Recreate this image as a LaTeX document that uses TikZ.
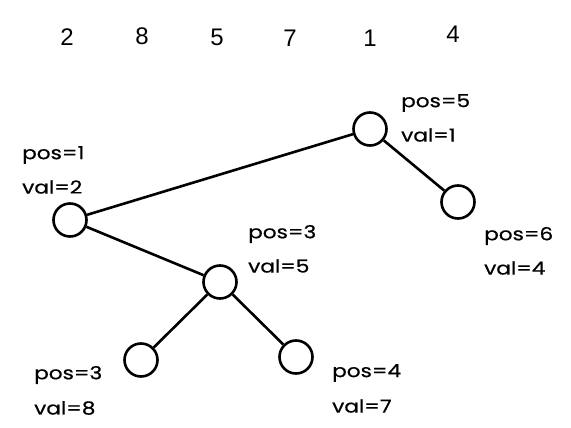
\documentclass[tikz,border=0pt]{standalone}
\usepackage{fontspec}
\setmainfont{Poppins}[FakeStretch=1.2,FakeBold=0.6]
\newfontfamily\digitfont{Liberation Sans}
\tikzset{
  tnode/.style={circle,draw,line width=2.6pt,minimum size=33pt,inner sep=0pt},
  edge/.style={line width=2.6pt},
  lbl/.style={anchor=west,inner sep=0pt,font=\fontsize{18}{20}\selectfont},
  topnum/.style={inner sep=0pt,font=\digitfont\fontsize{24}{26}\selectfont}
}
\begin{document}
\begin{tikzpicture}[x=1pt,y=-1pt]
\useasboundingbox (0,0) rectangle (571,428);
% top sequence
\node[topnum] (t1) at (67,37) {2};
\node[topnum] (t2) at (142,36) {8};
\node[topnum] (t3) at (217,37) {5};
\node[topnum] (t4) at (290,38) {7};
\node[topnum] (t5) at (370,38) {1};
\node[topnum] (t6) at (453,34) {4};
% tree nodes
\node[tnode] (n1) at (370,129) {};
\node[tnode] (n2) at (70,220) {};
\node[tnode] (n6) at (458,202) {};
\node[tnode] (n3) at (220,282) {};
\node[tnode] (n8) at (141,360) {};
\node[tnode] (n7) at (296,357) {};
\draw[edge] (n1) -- (n2);
\draw[edge] (n1) -- (n6);
\draw[edge] (n2) -- (n3);
\draw[edge] (n3) -- (n8);
\draw[edge] (n3) -- (n7);
% labels
\node[lbl] (p1) at (401,103) {pos=5};
\node[lbl] (v1) at (401,135) {val=1};
\node[lbl] (p2) at (22,155) {pos=1};
\node[lbl] (v2) at (22,187) {val=2};
\node[lbl] (p3) at (248,234) {pos=3};
\node[lbl] (v3) at (248,266) {val=5};
\node[lbl] (p6) at (484,236) {pos=6};
\node[lbl] (v6) at (484,268) {val=4};
\node[lbl] (p8) at (34,375) {pos=3};
\node[lbl] (v8) at (34,408) {val=8};
\node[lbl] (p7) at (332,373) {pos=4};
\node[lbl] (v7) at (332,406) {val=7};
\end{tikzpicture}
\end{document}
